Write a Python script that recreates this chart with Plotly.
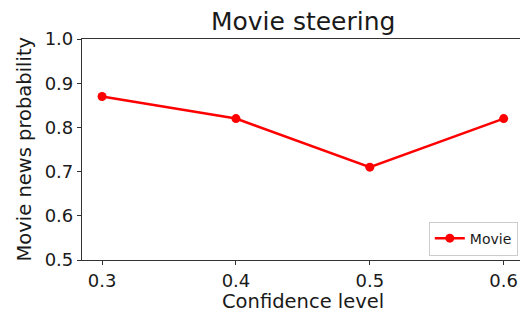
import plotly.graph_objects as go

confidence = [0.3, 0.4, 0.5, 0.6]
probability = [0.87, 0.82, 0.71, 0.82]
x_ticks = [0.3, 0.4, 0.5, 0.6]
y_ticks = [0.5, 0.6, 0.7, 0.8, 0.9, 1.0]

FONT = "DejaVu Sans"
AX = "#333333"
TXT = "#1a1a1a"

fig = go.Figure()
fig.add_trace(go.Scatter(
    x=confidence, y=probability, mode="lines+markers", name="Movie",
    line=dict(color="#ff0000", width=2.5),
    marker=dict(color="#ff0000", size=9),
))

fig.update_layout(
    width=520, height=313,
    margin=dict(l=82, r=0, t=39, b=53),
    paper_bgcolor="white", plot_bgcolor="white",
    font=dict(family=FONT, color=TXT),
    title=dict(text="Movie steering", x=0.505, xref="paper", xanchor="center",
               y=1 - 21 / 313, yref="container", yanchor="middle",
               font=dict(size=25, family=FONT, color=TXT)),
    showlegend=True,
    legend=dict(x=0.995, y=0.02, xanchor="right", yanchor="bottom",
                bgcolor="white", bordercolor="#cccccc", borderwidth=1,
                font=dict(size=14, family=FONT), itemwidth=30,
                tracegroupgap=0),
    annotations=[
        dict(text="Confidence level", xref="paper", yref="paper",
             x=0.505, y=-41 / 221, xanchor="center", yanchor="middle",
             showarrow=False, font=dict(size=19.5, family=FONT, color=TXT)),
        dict(text="Movie news probability", xref="paper", yref="paper",
             x=-58 / 438, y=0.5, xanchor="center", yanchor="middle",
             textangle=-90, showarrow=False,
             font=dict(size=19.5, family=FONT, color=TXT)),
    ],
)
fig.update_xaxes(
    range=[0.285, 0.6122], tickvals=x_ticks, ticktext=[f"{v:.1f}" for v in x_ticks],
    showgrid=False, zeroline=False, showline=True, linecolor=AX, linewidth=1.2,
    mirror=True, ticks="outside", ticklen=4, tickcolor=AX, tickfont=dict(size=18),
    automargin=False,
)
fig.update_yaxes(
    range=[0.5, 1.0], tickvals=y_ticks, ticktext=[f"{v:.1f}" for v in y_ticks],
    showgrid=False, zeroline=False, showline=True, linecolor=AX, linewidth=1.2,
    ticks="outside", ticklen=4, tickcolor=AX, tickfont=dict(size=18),
    automargin=False,
)
fig.write_html("out.html", config={"displayModeBar": False},
               post_script="document.body.style.margin='0';")
